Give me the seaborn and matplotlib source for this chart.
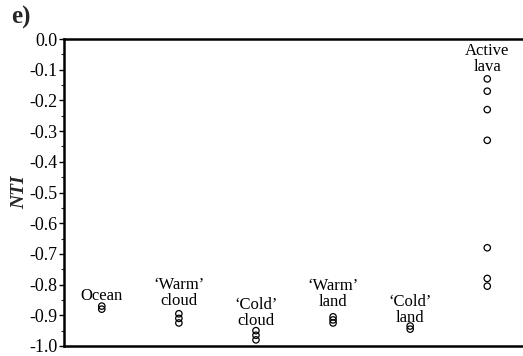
import matplotlib
matplotlib.use("Agg")
import matplotlib.pyplot as plt
import seaborn as sns
import pandas as pd
from matplotlib.ticker import MultipleLocator, FormatStrFormatter

# ---- data ----
categories = ["Ocean", "Warm cloud", "Cold cloud", "Warm land", "Cold land", "Active lava"]
labels = ["Ocean", "\u2018Warm\u2019\ncloud", "\u2018Cold\u2019\ncloud",
          "\u2018Warm\u2019\nland", "\u2018Cold\u2019\nland", "Active\nlava"]
ocean = [-0.870, -0.880]
warm_cloud = [-0.895, -0.910, -0.925]
cold_cloud = [-0.950, -0.965, -0.980]
warm_land = [-0.905, -0.915, -0.925]
cold_land = [-0.935, -0.945]
active_lava = [-0.130, -0.170, -0.230, -0.330, -0.680, -0.780, -0.805]
label_bottom = [-0.862, -0.880, -0.946, -0.882, -0.936, -0.118]

series = [ocean, warm_cloud, cold_cloud, warm_land, cold_land, active_lava]
df = pd.DataFrame({
    "group": [c for c, vals in zip(categories, series) for _ in vals],
    "NTI": [v for vals in series for v in vals],
})

sns.set_style("ticks")
plt.rcParams["font.family"] = ["Liberation Serif", "DejaVu Serif"]
plt.rcParams["axes.unicode_minus"] = False

fig = plt.figure(figsize=(5.23, 3.56), dpi=100)
ax = fig.add_axes([64 / 523, 10 / 356, 1 - 64 / 523 - 0.002, (346 - 39) / 356])

sns.stripplot(data=df, x="group", y="NTI", order=categories, jitter=False,
              marker="o", size=4.6, linewidth=0.9, ax=ax)
for coll in ax.collections:
    coll.set_facecolor("none")
    coll.set_edgecolor("black")

for i, (lab, yb) in enumerate(zip(labels, label_bottom)):
    ax.text(i, yb, lab, ha="center", va="bottom", ma="center",
            fontsize=12, linespacing=1.0, color="black")

ax.set_xlim(-0.49, 5.45)
ax.set_ylim(-1.0, 0.0)
ax.yaxis.set_major_locator(MultipleLocator(0.1))
ax.yaxis.set_minor_locator(MultipleLocator(0.05))
ax.yaxis.set_major_formatter(FormatStrFormatter("%.1f"))
ax.tick_params(axis="y", which="major", direction="out", length=3.5, width=1,
               labelsize=13, pad=1, colors="black")
ax.tick_params(axis="y", which="minor", direction="out", length=2, width=0.8)
ax.set_xticks([])
ax.set_xlabel("")
ax.set_ylabel("NTI", fontsize=14, fontweight="bold", fontstyle="italic", labelpad=1)

for side in ["left", "top", "bottom"]:
    ax.spines[side].set_visible(True)
    ax.spines[side].set_linewidth(1.8)
    ax.spines[side].set_color("black")
ax.spines["right"].set_visible(False)

fig.text(11 / 523, 1 - 17 / 356, "e)", fontsize=18, fontweight="bold",
         ha="left", va="center")

fig.savefig("out.png", dpi=100)
